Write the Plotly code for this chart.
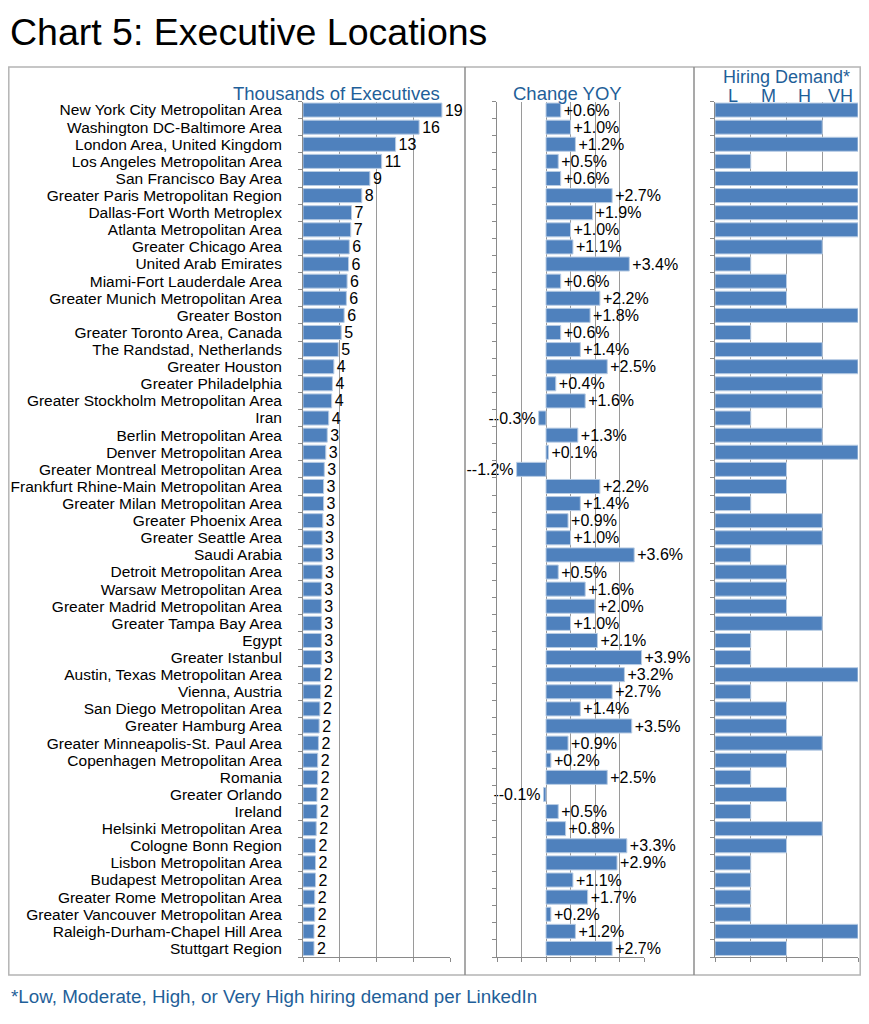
import plotly.graph_objects as go

# the page body keeps its 8px margin; the figure is sized so it fits the 869x1024 window
OFF = 8
W, H = 869 - 2 * OFF, 1024 - 2 * OFF

locations = [
    "New York City Metropolitan Area", "Washington DC-Baltimore Area", "London Area, United Kingdom",
    "Los Angeles Metropolitan Area", "San Francisco Bay Area", "Greater Paris Metropolitan Region",
    "Dallas-Fort Worth Metroplex", "Atlanta Metropolitan Area", "Greater Chicago Area",
    "United Arab Emirates", "Miami-Fort Lauderdale Area", "Greater Munich Metropolitan Area",
    "Greater Boston", "Greater Toronto Area, Canada", "The Randstad, Netherlands",
    "Greater Houston", "Greater Philadelphia", "Greater Stockholm Metropolitan Area",
    "Iran", "Berlin Metropolitan Area", "Denver Metropolitan Area",
    "Greater Montreal Metropolitan Area", "Frankfurt Rhine-Main Metropolitan Area", "Greater Milan Metropolitan Area",
    "Greater Phoenix Area", "Greater Seattle Area", "Saudi Arabia",
    "Detroit Metropolitan Area", "Warsaw Metropolitan Area", "Greater Madrid Metropolitan Area",
    "Greater Tampa Bay Area", "Egypt", "Greater Istanbul",
    "Austin, Texas Metropolitan Area", "Vienna, Austria", "San Diego Metropolitan Area",
    "Greater Hamburg Area", "Greater Minneapolis-St. Paul Area", "Copenhagen Metropolitan Area",
    "Romania", "Greater Orlando", "Ireland",
    "Helsinki Metropolitan Area", "Cologne Bonn Region", "Lisbon Metropolitan Area",
    "Budapest Metropolitan Area", "Greater Rome Metropolitan Area", "Greater Vancouver Metropolitan Area",
    "Raleigh-Durham-Chapel Hill Area", "Stuttgart Region",
]

exec_thousands = [
    18.9, 15.8, 12.6, 10.7, 9.1, 8.0, 6.6, 6.5, 6.3, 6.2,
    6.0, 5.9, 5.6, 5.2, 4.8, 4.2, 4.0, 3.9, 3.5, 3.3,
    3.1, 2.9, 2.8, 2.8, 2.7, 2.6, 2.6, 2.6, 2.5, 2.5,
    2.5, 2.5, 2.5, 2.4, 2.4, 2.3, 2.2, 2.1, 2.0, 2.0,
    1.9, 1.9, 1.8, 1.7, 1.7, 1.7, 1.6, 1.6, 1.5, 1.5,
]

exec_labels = [
    "19", "16", "13", "11", "9", "8", "7", "7", "6", "6",
    "6", "6", "6", "5", "5", "4", "4", "4", "4", "3",
    "3", "3", "3", "3", "3", "3", "3", "3", "3", "3",
    "3", "3", "3", "2", "2", "2", "2", "2", "2", "2",
    "2", "2", "2", "2", "2", "2", "2", "2", "2", "2",
]

yoy_change = [
    0.6, 1.0, 1.2, 0.5, 0.6, 2.7, 1.9, 1.0, 1.1, 3.4,
    0.6, 2.2, 1.8, 0.6, 1.4, 2.5, 0.4, 1.6, -0.3, 1.3,
    0.1, -1.2, 2.2, 1.4, 0.9, 1.0, 3.6, 0.5, 1.6, 2.0,
    1.0, 2.1, 3.9, 3.2, 2.7, 1.4, 3.5, 0.9, 0.2, 2.5,
    -0.1, 0.5, 0.8, 3.3, 2.9, 1.1, 1.7, 0.2, 1.2, 2.7,
]

hiring_demand = [
    "VH", "H", "VH", "L", "VH", "VH", "VH", "VH", "H", "L",
    "M", "M", "VH", "L", "H", "VH", "H", "H", "L", "H",
    "VH", "M", "M", "L", "H", "H", "L", "M", "M", "M",
    "H", "L", "L", "VH", "L", "M", "M", "H", "M", "L",
    "M", "L", "H", "M", "L", "L", "L", "L", "VH", "M",
]

demand_levels = ["L", "M", "H", "VH"]

demand_num = [demand_levels.index(d) + 1 for d in hiring_demand]
yoy_text = [("+" if v >= 0 else "-") + f"{v:.1f}%" for v in yoy_change]


def fx(p):
    return (p - OFF) / W


def fy(p):
    return 1 - (p - OFF) / H


FONT = "Liberation Sans, Arial, sans-serif"
BLUE = "#4F81BD"
EDGE = "#B8CCE4"
HEAD = "#1F5F99"
GRID = "#9a9a9a"
AX = "#8a8a8a"

bar_common = dict(
    orientation="h",
    marker=dict(color=BLUE, line=dict(color=EDGE, width=1)),
    textposition="outside",
    cliponaxis=False,
    constraintext="none",
    textfont=dict(family=FONT, size=16, color="black"),
    hoverinfo="skip",
)

fig = go.Figure()
fig.add_trace(go.Bar(x=exec_thousands, y=locations, text=exec_labels, xaxis="x", yaxis="y", **bar_common))
fig.add_trace(go.Bar(x=yoy_change, y=locations, text=yoy_text, xaxis="x2", yaxis="y2", **bar_common))
fig.add_trace(go.Bar(x=demand_num, y=locations, xaxis="x3", yaxis="y3",
                     orientation="h", marker=dict(color=BLUE, line=dict(color=EDGE, width=1)),
                     hoverinfo="skip"))

ydom = [fy(957), fy(101.5)]

xcommon = dict(showgrid=True, gridcolor=GRID, gridwidth=1, ticks="outside", ticklen=4,
               tickcolor=AX, showticklabels=False, showline=True, linecolor=AX,
               zeroline=False, fixedrange=True, automargin=False)
ycommon = dict(domain=ydom, type="category", autorange="reversed", tickson="boundaries",
               tickmode="array", tickvals=locations, ticktext=locations,
               ticks="outside", ticklen=4, tickcolor=AX, showline=True, linecolor=AX,
               showgrid=False, zeroline=False, fixedrange=True, automargin=False)

fig.update_layout(
    width=W, height=H,
    margin=dict(l=0, r=0, t=0, b=0, autoexpand=False),
    paper_bgcolor="white", plot_bgcolor="rgba(0,0,0,0)",
    showlegend=False,
    bargap=0.18,
    font=dict(family=FONT, color="black"),
    xaxis=dict(domain=[fx(303), fx(450)], range=[0, 20], dtick=5, tick0=0, anchor="y", **xcommon),
    xaxis2=dict(domain=[fx(497), fx(644)], range=[-2, 4], dtick=1, tick0=0, anchor="y2", **xcommon),
    xaxis3=dict(domain=[fx(715), fx(858)], range=[0, 4], dtick=1, tick0=0, anchor="y3", **xcommon),
    xaxis4=dict(overlaying="x3", side="top", anchor="y3", range=[0, 4], tickvals=[1, 2, 3],
                ticks="outside", ticklen=2, tickcolor="#555", showticklabels=False,
                showgrid=False, showline=False, zeroline=False, fixedrange=True, automargin=False),
    yaxis=dict(anchor="x", tickfont=dict(family=FONT, size=15.5, color="black"),
               ticklabelstandoff=17, **ycommon),
    yaxis2=dict(anchor="x2", showticklabels=False, **ycommon),
    yaxis3=dict(anchor="x3", showticklabels=False, **ycommon),
)

# panel frames
fig.add_shape(type="rect", xref="paper", yref="paper", x0=fx(8.8), x1=fx(860.2), y0=fy(975), y1=fy(67),
              line=dict(color="#b4b4b4", width=1.5), fillcolor="rgba(0,0,0,0)", layer="below")
for xp in (465, 694):
    fig.add_shape(type="line", xref="paper", yref="paper", x0=fx(xp), x1=fx(xp), y0=fy(975), y1=fy(67),
                  line=dict(color="#8c8c8c", width=1.5))

ann = []
ann.append(dict(text="Chart 5: Executive Locations", x=fx(8), y=fy(32), xanchor="left", yanchor="middle",
                font=dict(family=FONT, size=37.5, color="black")))
ann.append(dict(text="Thousands of Executives", x=fx(336), y=fy(93), xanchor="center", yanchor="middle",
                font=dict(family=FONT, size=18.5, color=HEAD)))
ann.append(dict(text="Change YOY", x=fx(567), y=fy(93), xanchor="center", yanchor="middle",
                font=dict(family=FONT, size=18.5, color=HEAD)))
ann.append(dict(text="Hiring Demand*", x=fx(786), y=fy(77), xanchor="center", yanchor="middle",
                font=dict(family=FONT, size=18, color=HEAD)))
for i, lvl in enumerate(demand_levels):
    ann.append(dict(text=lvl, x=i + 0.5, xref="x3", y=fy(96), xanchor="center", yanchor="middle",
                    font=dict(family=FONT, size=18, color=HEAD)))
ann.append(dict(text="*Low, Moderate, High, or Very High hiring demand per LinkedIn", x=fx(9), y=fy(996),
                xanchor="left", yanchor="middle", font=dict(family=FONT, size=18.8, color=HEAD)))
for a in ann:
    a.setdefault("xref", "paper")
    a.setdefault("yref", "paper")
    a["showarrow"] = False
fig.update_layout(annotations=ann)

fig.write_html("out.html")
